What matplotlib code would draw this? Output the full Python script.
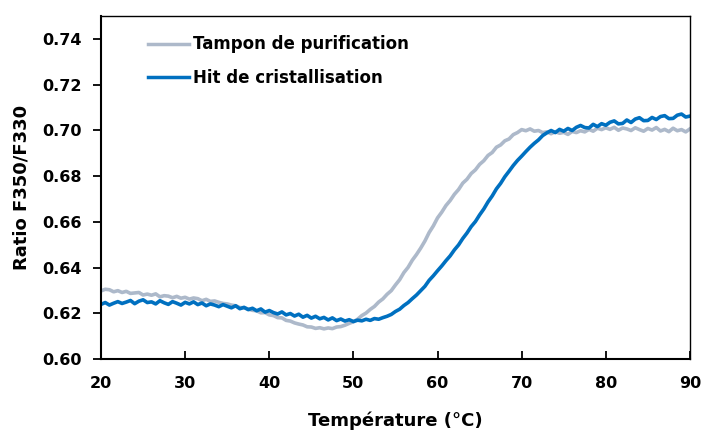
import numpy as np
import matplotlib
matplotlib.use("Agg")
import matplotlib.pyplot as plt

plt.rcParams['font.family'] = ['DejaVu Sans']
plt.rcParams['font.weight'] = 'bold'

temperature = np.arange(20.0, 90.01, 0.5)

tampon = [
    0.6298, 0.6305, 0.6303, 0.6294, 0.6299, 0.6291, 0.6296, 0.6287, 0.6289, 0.6291,
    0.6280, 0.6284, 0.6279, 0.6285, 0.6272, 0.6277, 0.6275, 0.6268, 0.6274, 0.6266,
    0.6270, 0.6262, 0.6267, 0.6264, 0.6255, 0.6261, 0.6252, 0.6254, 0.6248, 0.6243,
    0.6241, 0.6236, 0.6233, 0.6225, 0.6224, 0.6219, 0.6213, 0.6211, 0.6202, 0.6203,
    0.6193, 0.6190, 0.6181, 0.6180, 0.6169, 0.6166, 0.6158, 0.6153, 0.6149, 0.6141,
    0.6140, 0.6134, 0.6137, 0.6132, 0.6136, 0.6133, 0.6140, 0.6142, 0.6148, 0.6156,
    0.6163, 0.6174, 0.6190, 0.6201, 0.6217, 0.6230, 0.6249, 0.6263, 0.6283, 0.6299,
    0.6324, 0.6347, 0.6378, 0.6401, 0.6432, 0.6457, 0.6485, 0.6516, 0.6553, 0.6582,
    0.6617, 0.6642, 0.6671, 0.6693, 0.6720, 0.6741, 0.6769, 0.6786, 0.6811, 0.6827,
    0.6851, 0.6867, 0.6890, 0.6903, 0.6926, 0.6936, 0.6954, 0.6962, 0.6981, 0.6990,
    0.7003, 0.6998, 0.7006, 0.6996, 0.6999, 0.6990, 0.6993, 0.6985, 0.6994, 0.6987,
    0.6991, 0.6982, 0.6995, 0.6990, 0.6998, 0.6993, 0.7004, 0.6996, 0.7009, 0.7003,
    0.7011, 0.7004, 0.7013, 0.7000, 0.7010, 0.7006, 0.6999, 0.7011, 0.7003, 0.6996,
    0.7008, 0.7001, 0.7012, 0.6997, 0.7004, 0.6994, 0.7009, 0.6998, 0.7003, 0.6993,
    0.7006,
]

hit = [
    0.6239, 0.6247, 0.6236, 0.6244, 0.6251, 0.6243, 0.6249, 0.6256, 0.6242, 0.6253,
    0.6259, 0.6247, 0.6250, 0.6241, 0.6255, 0.6246, 0.6239, 0.6251, 0.6244, 0.6236,
    0.6248, 0.6241, 0.6250, 0.6238, 0.6245, 0.6233, 0.6241, 0.6236, 0.6229, 0.6238,
    0.6231, 0.6224, 0.6233, 0.6220, 0.6226, 0.6216, 0.6222, 0.6211, 0.6219, 0.6205,
    0.6212, 0.6203, 0.6197, 0.6206, 0.6193, 0.6199, 0.6188, 0.6196, 0.6183, 0.6191,
    0.6179, 0.6187, 0.6176, 0.6182, 0.6171, 0.6180, 0.6168, 0.6175, 0.6166, 0.6172,
    0.6164, 0.6170, 0.6167, 0.6174, 0.6169, 0.6177, 0.6174, 0.6181, 0.6187, 0.6195,
    0.6208, 0.6218, 0.6234, 0.6247, 0.6264, 0.6280, 0.6299, 0.6318, 0.6344, 0.6364,
    0.6386, 0.6407, 0.6430, 0.6451, 0.6477, 0.6499, 0.6527, 0.6551, 0.6579, 0.6601,
    0.6630, 0.6656, 0.6687, 0.6713, 0.6744, 0.6768, 0.6797, 0.6821, 0.6846, 0.6868,
    0.6887, 0.6907, 0.6926, 0.6943, 0.6958, 0.6977, 0.6989, 0.6999, 0.6990, 0.7004,
    0.6996, 0.7008, 0.6999, 0.7013, 0.7021, 0.7012, 0.7010, 0.7026, 0.7016, 0.7029,
    0.7022, 0.7035, 0.7041, 0.7028, 0.7030, 0.7045, 0.7034, 0.7049, 0.7055, 0.7042,
    0.7043, 0.7056, 0.7047, 0.7060, 0.7064, 0.7051, 0.7052, 0.7066, 0.7071, 0.7058,
    0.7062,
]

x_ticks = [20, 30, 40, 50, 60, 70, 80, 90]
y_ticks = [0.60, 0.62, 0.64, 0.66, 0.68, 0.70, 0.72, 0.74]
labels = ["Tampon de purification", "Hit de cristallisation"]
colors = ["#ADB9CA", "#0070C0"]

fig = plt.figure(figsize=(7.04, 4.30), dpi=100)
ax = fig.add_axes([0.1435, 0.165, 0.8365, 0.798])

ax.plot(temperature, tampon, color=colors[0], lw=2.6, label=labels[0], solid_joinstyle='round')
ax.plot(temperature, hit, color=colors[1], lw=2.6, label=labels[1], solid_joinstyle='round')

ax.set_xlim(20, 90)
ax.set_ylim(0.60, 0.75)
ax.set_xticks(x_ticks)
ax.set_yticks(y_ticks)
ax.set_xticklabels([str(t) for t in x_ticks], fontsize=11.5, fontweight='bold')
ax.set_yticklabels([f"{v:.2f}" for v in y_ticks], fontsize=11.5, fontweight='bold')
ax.tick_params(axis='y', direction='out', length=6, width=1.3, pad=8)
ax.tick_params(axis='x', direction='in', length=6, width=1.3, pad=12)
for s in ['left', 'bottom']:
    ax.spines[s].set_linewidth(1.5)
for s in ['top', 'right']:
    ax.spines[s].set_linewidth(1.0)

ax.set_xlabel("Température (°C)", fontsize=13, fontweight='bold', labelpad=15)
ax.set_ylabel("Ratio F350/F330", fontsize=13, fontweight='bold', labelpad=8)

leg = ax.legend(loc='upper left', bbox_to_anchor=(0.054, 0.987), frameon=False,
                fontsize=12, handlelength=2.5, handletextpad=0.2, labelspacing=0.95)
for t in leg.get_texts():
    t.set_fontweight('bold')
for h in leg.get_lines():
    h.set_linewidth(2.5)

fig.savefig("out.png", dpi=100)
